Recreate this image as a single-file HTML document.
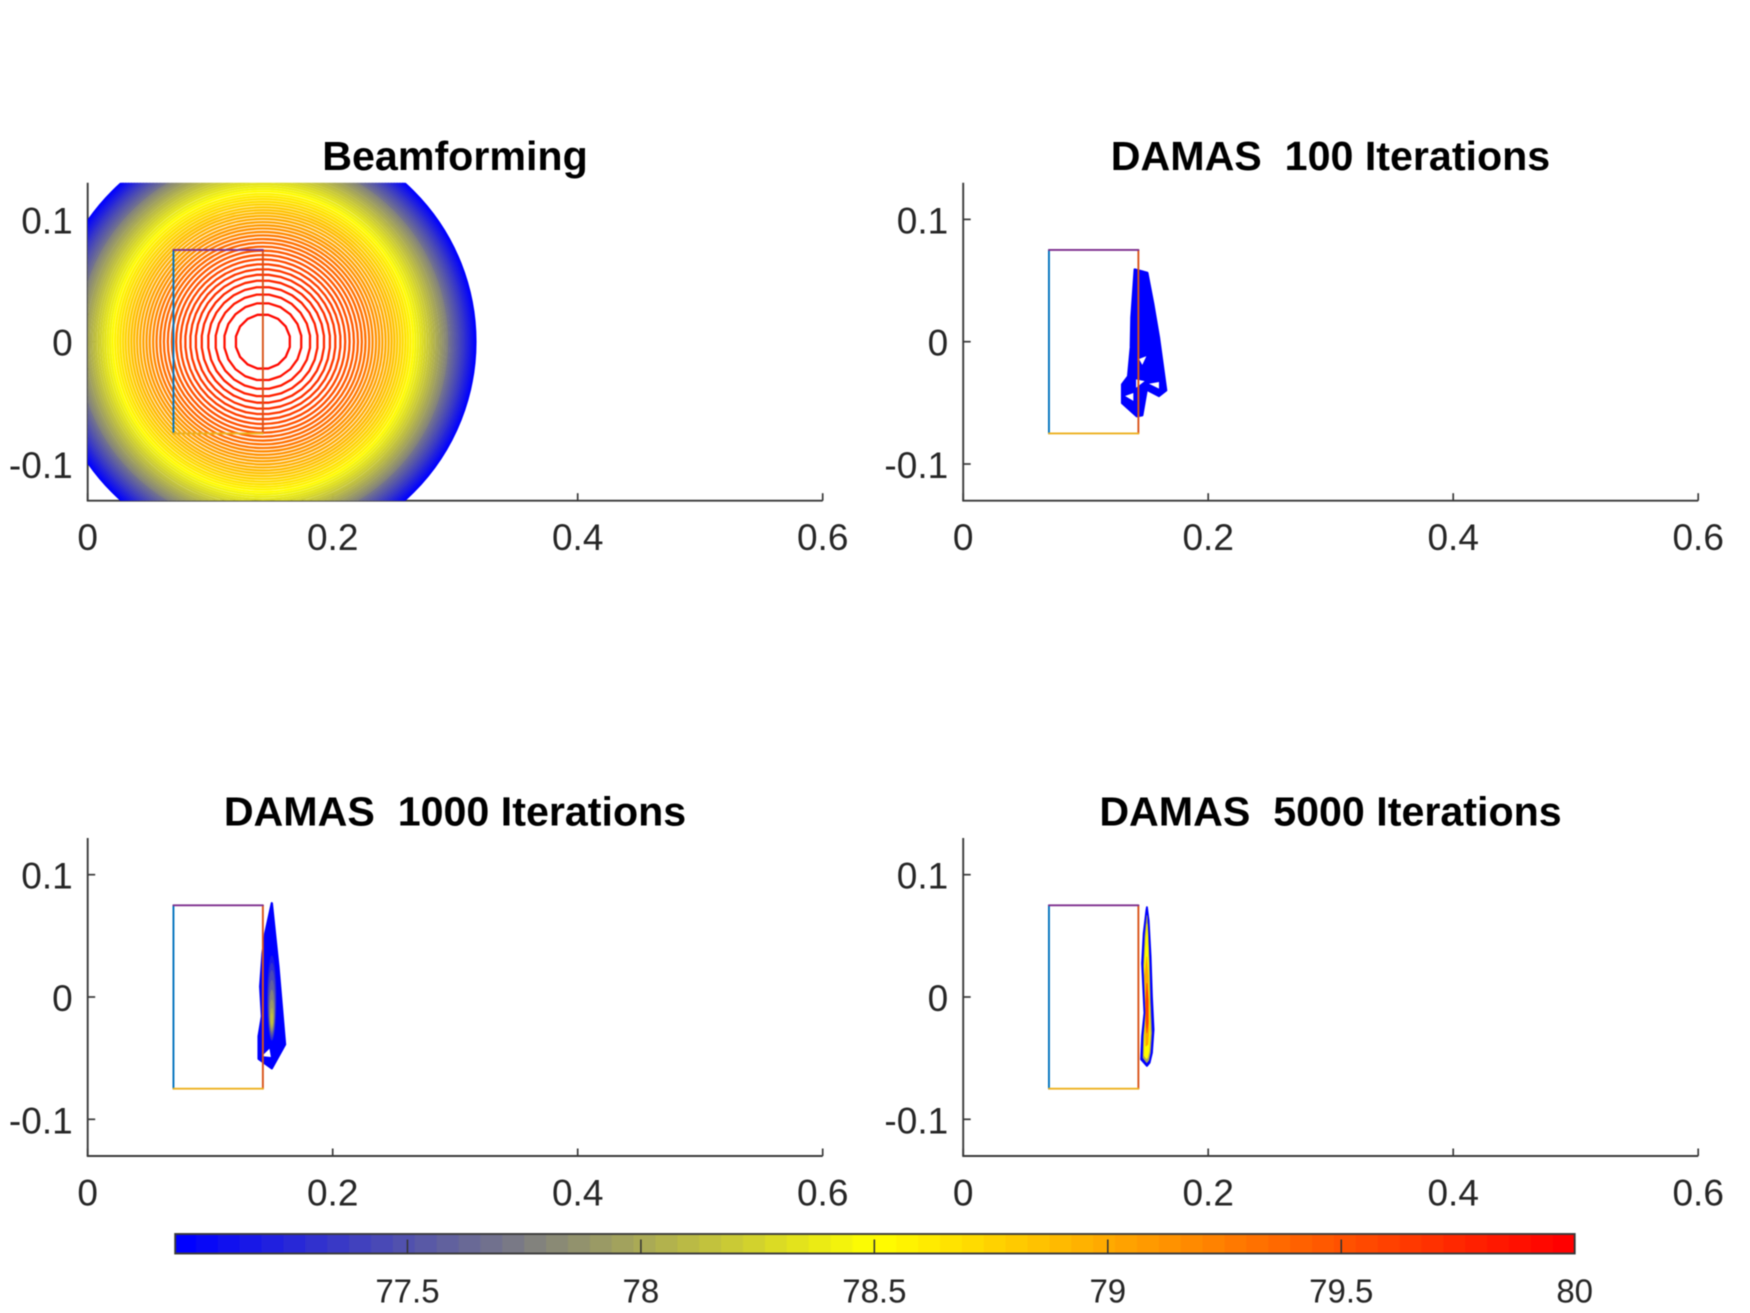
<!DOCTYPE html>
<html>
<head>
<meta charset="utf-8">
<title>Beamforming and DAMAS contour maps</title>
<style>
html,body{margin:0;padding:0;background:#fff;}
body{width:1750px;height:1313px;overflow:hidden;}
svg{display:block;font-family:"Liberation Sans",sans-serif;filter:blur(0.4px);}
.title{font-size:41.2px;font-weight:bold;fill:#000;text-anchor:middle;white-space:pre;}
.tick{font-size:37px;fill:#262626;}
.cbtick{font-size:33px;fill:#262626;text-anchor:middle;}
</style>
</head>
<body>
<svg id="figure" xmlns="http://www.w3.org/2000/svg" width="1750" height="1313" viewBox="0 0 1750 1313">
  <rect x="0" y="0" width="1750" height="1313" fill="#fff"/>
  <defs>
    <clipPath id="clip-beam"><rect x="87.7" y="182.7" width="735" height="318"/></clipPath>
  </defs>
  <text class="title" x="455" y="170">Beamforming</text>
  <text class="title" x="1330.5" y="170" xml:space="preserve">DAMAS  100 Iterations</text>
  <text class="title" x="455" y="825.5" xml:space="preserve">DAMAS  1000 Iterations</text>
  <text class="title" x="1330.5" y="825.5" xml:space="preserve">DAMAS  5000 Iterations</text>
  <g id="panel-beam"></g>
  <g id="panel-100"></g>
  <g id="panel-1000"></g>
  <g id="panel-5000"></g>
  <g id="colorbar"></g>
</svg>
<script>
// ---- axis data ----
var xTicks = [0, 0.2, 0.4, 0.6];
var xTickLabels = ['0', '0.2', '0.4', '0.6'];
var yTicks = [-0.1, 0, 0.1];
var yTickLabels = ['-0.1', '0', '0.1'];
var xLimits = [0, 0.6];
var yLimits = [-0.13, 0.13];

// ---- reference rectangle (data units) ----
var rectXMin = 0.07;
var rectXMax = 0.143;
var rectYMin = -0.075;
var rectYMax = 0.075;

// ---- colour scale ----
var colorLimits = [77, 80];
var colormapStops = [[0, 0, 255], [255, 255, 0], [255, 0, 0]];
var colorbarTicks = [77.5, 78, 78.5, 79, 79.5, 80];
var colorbarTickLabels = ['77.5', '78', '78.5', '79', '79.5', '80'];

// ---- beamforming contours ----
var beamCenterX = 0.143;
var beamCenterY = 0;
var beamLevels = [79.95,79.90,79.85,79.80,79.75,79.70,79.65,79.60,79.55,79.50,79.45,79.40,79.35,79.30,79.25,79.20,79.15,79.10,79.05,79.00,78.95,78.90,78.85,78.80,78.75,78.70,78.65,78.60,78.55,78.50,78.45,78.40,78.35,78.30,78.25,78.20,78.15,78.10,78.05,78.00,77.95,77.90,77.85,77.80,77.75,77.70,77.65,77.60,77.55,77.50,77.45,77.40,77.35,77.30,77.25,77.20,77.15,77.10,77.05,77.00];
var beamRadii = [.0224,.0317,.0388,.0448,.0501,.0549,.0593,.0634,.0672,.0708,.0743,.0776,.0808,.0838,.0868,.0896,.0924,.0950,.0976,.1002,.1027,.1051,.1074,.1097,.1120,.1142,.1164,.1185,.1206,.1227,.1247,.1267,.1287,.1306,.1325,.1344,.1363,.1381,.1399,.1417,.1434,.1452,.1469,.1486,.1503,.1519,.1536,.1552,.1568,.1584,.1600,.1615,.1631,.1646,.1661,.1676,.1691,.1706,.1721,.1735];

// ---- DAMAS 100 iterations ----
var damas100Level = 77.02;
var damas100Outline = [[.1400,.0590],[.1503,.0563],[.1552,.0306],[.1598,.0035],[.1657,-.0398],[.1598,-.0444],[.1498,-.0392],[.1462,-.0601],[.1416,-.0609],[.1297,-.0501],[.1297,-.0349],[.1346,-.0284],[.1368,-.0046],[.1373,.0198]];
var damas100Holes = [
  [[.1435,-.0141],[.1495,-.0119],[.1462,-.0189]],
  [[.1411,-.0308],[.1481,-.0322],[.1411,-.0376]],
  [[.1517,-.0344],[.1598,-.0330],[.1598,-.0384]],
  [[.1322,-.0444],[.1389,-.0419],[.1389,-.0484]]
];

// ---- DAMAS 1000 iterations ----
var damas1000Level = 77.02;
var damas1000Outline = [[.1503,.0767],[.1557,.0248],[.1611,-.0388],[.1503,-.0583],[.1395,-.0505],[.1395,-.0321],[.1422,-.0158],[.1408,.0085],[.1427,.0356],[.1449,.0518]];
var damas1000Holes = [[[.1484,-.0423],[.1495,-.0491],[.1422,-.0483]]];
var coreCenterX = 0.1503;
var coreLevels = [77.15,77.30,77.45,77.60,77.75,77.90,78.05,78.15];
var coreHalfWidths = [.0038,.0034,.0030,.0026,.0022,.0018,.0013,.0008];
var coreTops = [.034,.028,.022,.014,.006,-.002,-.009,-.013];
var coreBottoms = [-.036,-.035,-.033,-.031,-.029,-.027,-.025,-.023];

// ---- DAMAS 5000 iterations ----
var damas5000Levels = [77.02, 78.0, 78.5, 79.0, 79.6];
var damas5000Layer0 = [[.1500,.0735],[.1514,.0626],[.1530,.0329],[.1541,.0004],[.1554,-.0267],[.1541,-.0456],[.1522,-.0537],[.1500,-.0564],[.1452,-.0510],[.1460,-.0321],[.1479,-.0131],[.1460,.0275],[.1473,.0518],[.1495,.0708]];
var damas5000Layer1 = [[.1500,.0667],[.1508,.0545],[.1519,.0275],[.1527,-.0023],[.1538,-.0294],[.1527,-.0456],[.1514,-.0518],[.1498,-.0537],[.1468,-.0497],[.1473,-.0321],[.1490,-.0131],[.1473,.0261],[.1484,.0505]];
var damas5000Layer2 = [[.1500,.0599],[.1506,.0491],[.1514,.0248],[.1519,-.0023],[.1527,-.0294],[.1519,-.0442],[.1506,-.0497],[.1495,-.0505],[.1476,-.0478],[.1481,-.0321],[.1492,-.0131],[.1479,.0248],[.1490,.0464]];
var damas5000Layer3 = [[.1498,.0329],[.1510,.0166],[.1514,-.0050],[.1517,-.0267],[.1508,-.0388],[.1490,-.0402],[.1487,-.0294],[.1490,-.0104],[.1482,.0166]];
var damas5000Layer4 = [[.1500,.0112],[.1510,-.0023],[.1510,-.0212],[.1500,-.0294],[.1493,-.0212],[.1490,-.0050]];

var NS = 'http://www.w3.org/2000/svg';
var AX = {w: 735, h: 318};
var CB = {left: 174, right: 1574.7, top: 1234, bottom: 1253.5, frameLeft: 175.2};

function make(tag, attrs, parent) {
  var el = document.createElementNS(NS, tag);
  for (var k in attrs) { el.setAttribute(k, attrs[k]); }
  parent.appendChild(el);
  return el;
}
function levelColor(L) {
  var t = (L - colorLimits[0]) / (colorLimits[1] - colorLimits[0]);
  var i = Math.max(0, Math.min(63, Math.floor(t * 64)));
  var f = i / 63 * (colormapStops.length - 1);
  var s = Math.min(colormapStops.length - 2, Math.floor(f));
  var g = f - s, a = colormapStops[s], b = colormapStops[s + 1];
  return 'rgb(' + Math.round(a[0] + (b[0] - a[0]) * g) + ',' + Math.round(a[1] + (b[1] - a[1]) * g) + ',' + Math.round(a[2] + (b[2] - a[2]) * g) + ')';
}
function xScale(origin, v) { return origin.x + (v - xLimits[0]) / (xLimits[1] - xLimits[0]) * AX.w; }
function yScale(origin, v) { return origin.y + AX.h - (v - yLimits[0]) / (yLimits[1] - yLimits[0]) * AX.h; }
function cbScale(v) { return CB.left + (v - colorLimits[0]) / (colorLimits[1] - colorLimits[0]) * (CB.right - CB.left); }
function toPoints(origin, pts) {
  return pts.map(function (p) { return xScale(origin, p[0]).toFixed(2) + ',' + yScale(origin, p[1]).toFixed(2); }).join(' ');
}

function drawAxes(g, o) {
  var el;
  el = make('line', {x1: o.x, y1: o.y, x2: o.x, y2: o.y + AX.h, stroke: '#3a3a3a', 'stroke-width': 1.9}, g);
  
  
  el = make('line', {x1: o.x - 0.9, y1: o.y + AX.h, x2: o.x + AX.w, y2: o.y + AX.h, stroke: '#3a3a3a', 'stroke-width': 1.9}, g);
  
  
  xTicks.forEach(function (v, i) {
    var x = xScale(o, v);
    var t = make('line', {x1: x, y1: o.y + AX.h, x2: x, y2: o.y + AX.h - 7.5, stroke: '#3a3a3a', 'stroke-width': 1.7}, g);
    
    
    var l = make('text', {x: x, y: o.y + AX.h + 49.5, 'class': 'tick', 'text-anchor': 'middle'}, g);
    l.textContent = xTickLabels[i];
    
    
  });
  yTicks.forEach(function (v, i) {
    var y = yScale(o, v);
    var t = make('line', {x1: o.x, y1: y, x2: o.x + 7.5, y2: y, stroke: '#3a3a3a', 'stroke-width': 1.7}, g);
    
    
    var l = make('text', {x: o.x - 15, y: y + 14, 'class': 'tick', 'text-anchor': 'end'}, g);
    l.textContent = yTickLabels[i];
    
    
  });
}

function drawRect(g, o) {
  var x0 = xScale(o, rectXMin), x1 = xScale(o, rectXMax), y0 = yScale(o, rectYMin), y1 = yScale(o, rectYMax);
  var el;
  el = make('line', {x1: x0, y1: y0, x2: x0, y2: y1, stroke: '#0072BD', 'stroke-width': 1.9, 'stroke-linecap': 'round'}, g);
  
  
  el = make('line', {x1: x1, y1: y0, x2: x1, y2: y1, stroke: '#D95319', 'stroke-width': 1.9, 'stroke-linecap': 'round'}, g);
  
  
  el = make('line', {x1: x0, y1: y0, x2: x1, y2: y0, stroke: '#EDB120', 'stroke-width': 1.9, 'stroke-linecap': 'round'}, g);
  
  
  el = make('line', {x1: x0, y1: y1, x2: x1, y2: y1, stroke: '#7E2F8E', 'stroke-width': 1.9, 'stroke-linecap': 'round'}, g);
  
  
}

function drawRegion(g, o, pts, level, sw) {
  var c = levelColor(level);
  var el = make('polygon', {points: toPoints(o, pts), fill: c, stroke: c, 'stroke-width': sw, 'stroke-linejoin': 'round'}, g);
  
  
}
function drawHole(g, o, pts) {
  var el = make('polygon', {points: toPoints(o, pts), fill: '#fff'}, g);
  
  
}

// Panel 1: beamforming rings
(function () {
  var o = {x: 87.7, y: 182.7};
  var g = document.getElementById('panel-beam');
  drawAxes(g, o);
  var rings = make('g', {'clip-path': 'url(#clip-beam)'}, g);
  
  
  for (var i = beamRadii.length - 1; i >= 0; i--) {
    var ring;
    if (i < 8) {
      var pts = [], n = 16 + 4 * i;
      for (var j = 0; j < n; j++) {
        var a = 2 * Math.PI * (j + 0.5) / n;
        pts.push([beamCenterX + beamRadii[i] * Math.cos(a), beamCenterY + beamRadii[i] * Math.sin(a)]);
      }
      ring = make('polygon', {points: toPoints(o, pts), fill: 'none', stroke: levelColor(beamLevels[i]), 'stroke-width': 2.3, 'stroke-linejoin': 'round'}, rings);
    } else {
      ring = make('circle', {cx: xScale(o, beamCenterX), cy: yScale(o, beamCenterY), r: xScale(o, beamCenterX + beamRadii[i]) - xScale(o, beamCenterX), fill: 'none', stroke: levelColor(beamLevels[i]), 'stroke-width': 2.3}, rings);
    }
    
    
  }
  drawRect(g, o);
})();

// Panel 2: DAMAS 100
(function () {
  var o = {x: 963.2, y: 182.7};
  var g = document.getElementById('panel-100');
  drawAxes(g, o);
  drawRegion(g, o, damas100Outline, damas100Level, 2.3);
  damas100Holes.forEach(function (h) { drawHole(g, o, h); });
  drawRect(g, o);
})();

// Panel 3: DAMAS 1000
(function () {
  var o = {x: 87.7, y: 838};
  var g = document.getElementById('panel-1000');
  drawAxes(g, o);
  drawRegion(g, o, damas1000Outline, damas1000Level, 2.3);
  damas1000Holes.forEach(function (h) { drawHole(g, o, h); });
  coreLevels.forEach(function (L, i) {
    var cx = xScale(o, coreCenterX);
    var yT = yScale(o, coreTops[i]), yB = yScale(o, coreBottoms[i]);
    var rx = xScale(o, coreCenterX + coreHalfWidths[i]) - cx;
    var e = make('ellipse', {cx: cx, cy: (yT + yB) / 2, rx: rx, ry: (yB - yT) / 2, fill: levelColor(L)}, g);
    
    
  });
  drawRect(g, o);
})();

// Panel 4: DAMAS 5000
(function () {
  var o = {x: 963.2, y: 838};
  var g = document.getElementById('panel-5000');
  drawAxes(g, o);
  [damas5000Layer0, damas5000Layer1, damas5000Layer2, damas5000Layer3, damas5000Layer4].forEach(function (pts, i) {
    drawRegion(g, o, pts, damas5000Levels[i], i === 0 ? 1.8 : 0.6);
  });
  drawRect(g, o);
})();

// Colour bar
(function () {
  var g = document.getElementById('colorbar');
  var span = colorLimits[1] - colorLimits[0];
  for (var i = 0; i < 64; i++) {
    var lo = colorLimits[0] + span * i / 64;
    var hi = colorLimits[0] + span * (i + 1) / 64;
    var sx = Math.max(cbScale(lo), CB.frameLeft);
    var s = make('rect', {x: sx, y: CB.top, width: cbScale(hi) - sx + (i < 63 ? 0.6 : 0), height: CB.bottom - CB.top, fill: levelColor((lo + hi) / 2)}, g);
    
    
  }
  var box = make('rect', {x: CB.frameLeft, y: CB.top, width: CB.right - CB.frameLeft, height: CB.bottom - CB.top, fill: 'none', stroke: '#3a3a3a', 'stroke-width': 1.9}, g);
  
  
  colorbarTicks.forEach(function (v, i) {
    var x = cbScale(v);
    var t = make('line', {x1: x, y1: CB.bottom, x2: x, y2: CB.top + 5.5, stroke: '#333', 'stroke-width': 1.5}, g);
    
    
    var l = make('text', {x: x, y: 1302.5, 'class': 'cbtick'}, g);
    l.textContent = colorbarTickLabels[i];
    
    
  });
})();
</script>
</body>
</html>
